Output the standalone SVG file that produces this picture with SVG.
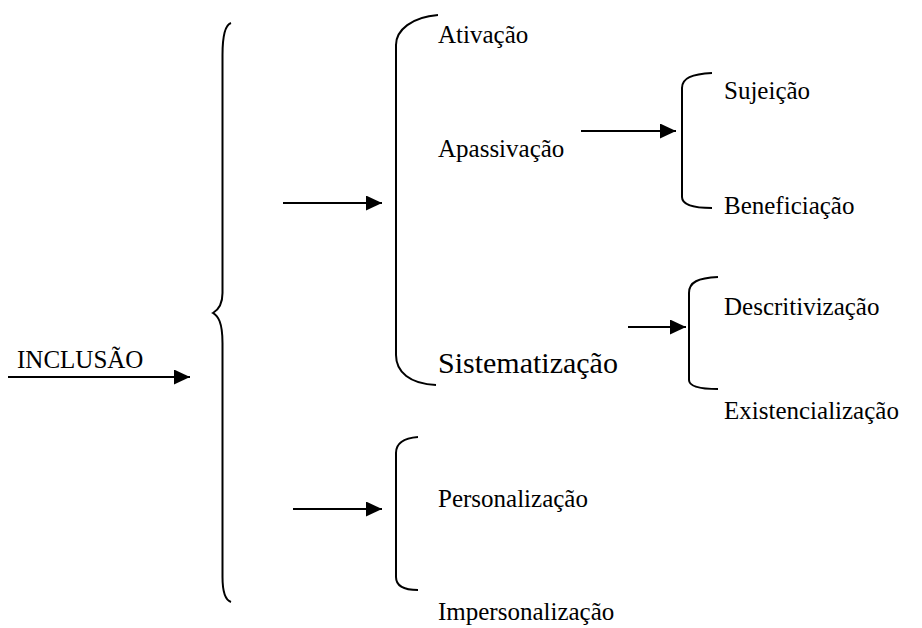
<svg xmlns="http://www.w3.org/2000/svg" width="922" height="628" viewBox="0 0 922 628">
<style>
text{font-family:'Liberation Serif','Times New Roman',Times,'DejaVu Serif',serif;font-size:25px;fill:#000}
.big{font-size:30px}
.ln{stroke:#000;stroke-width:2;fill:none}
.br{stroke:#000;stroke-width:2;fill:none}
</style>
<defs>
<marker id="ah" markerUnits="userSpaceOnUse" markerWidth="16" markerHeight="15" refX="16" refY="7.5" orient="auto">
<path d="M0,0 L16,7.5 L0,15 z" fill="#000"/>
</marker>
</defs>
<rect width="922" height="628" fill="#fff"/>
<g id="connectors">
<line class="ln" x1="8" y1="377" x2="190" y2="377" marker-end="url(#ah)"/>
<line class="ln" x1="283" y1="203" x2="382" y2="203" marker-end="url(#ah)"/>
<line class="ln" x1="293" y1="509" x2="382" y2="509" marker-end="url(#ah)"/>
<line class="ln" x1="581" y1="131" x2="676" y2="131" marker-end="url(#ah)"/>
<line class="ln" x1="628" y1="327" x2="686" y2="327" marker-end="url(#ah)"/>
<path class="br" d="M231,23 C225,25 222.5,35 222.5,55 L222.5,293 C222.5,305 218,310 213,313 C218,316 222.5,322 222.5,343 L222.5,577 C222.5,592 225,600 231,602"/>
<path class="br" d="M438,15 C412,17 396,30 396,45 L396,355 C396,372 410,384 436,385"/>
<path class="br" d="M712,73 C692,74 682,78 682,88 L682,197 C682,204 692,208 712,208"/>
<path class="br" d="M718,277 C698,278 689,282 689,293 L689,380 C689,386 698,389 718,389"/>
<path class="br" d="M418,437 C405,438 396,442 396,453 L396,577 C396,586 405,590 418,590"/>
</g>
<g id="n-inclusao"><text x="17" y="368" font-family="Liberation Serif, serif">INCLUSÃO</text></g>
<g id="n-ativacao"><text x="438" y="43">Ativação</text></g>
<g id="n-apassivacao"><text x="438" y="157">Apassivação</text></g>
<g id="n-sistematizacao"><text class="big" x="438" y="373">Sistematização</text></g>
<g id="n-sujeicao"><text x="724" y="99">Sujeição</text></g>
<g id="n-beneficiacao"><text x="724" y="214">Beneficiação</text></g>
<g id="n-descritivizacao"><text x="724" y="315">Descritivização</text></g>
<g id="n-existencializacao"><text x="724" y="419">Existencialização</text></g>
<g id="n-personalizacao"><text x="438" y="507">Personalização</text></g>
<g id="n-impersonalizacao"><text x="438" y="620">Impersonalização</text></g>
</svg>
